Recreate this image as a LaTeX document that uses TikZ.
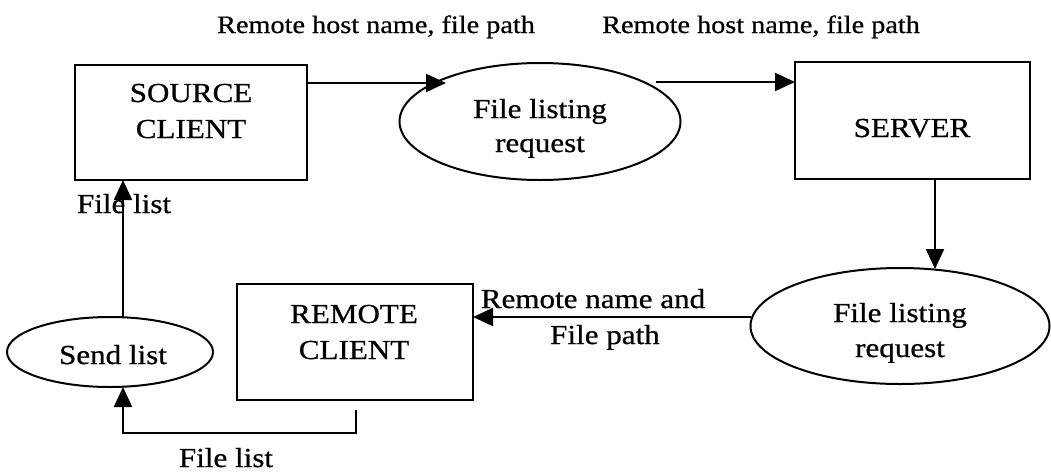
\documentclass[tikz,border=0pt]{standalone}
\usepackage{fontspec}
\setmainfont{Liberation Serif}[FakeStretch=1.13,FakeBold=0.7]
\usetikzlibrary{arrows.meta,shapes.geometric}
\begin{document}
\begin{tikzpicture}[x=1pt,y=-1pt,
  every node/.style={inner sep=0pt, outer sep=0pt},
  box/.style={draw, line width=2.1pt, rectangle},
  oval/.style={draw, line width=2pt, ellipse},
  big/.style={font=\fontsize{27.5}{33}\selectfont, anchor=base},
  small/.style={font=\fontsize{25}{30}\selectfont, anchor=base},
  arr/.style={line width=2.1pt, -{Triangle[length=20pt,width=18pt]}}]
\useasboundingbox (0,0) rectangle (1051,474);

% shapes
\node[box, minimum width=232pt, minimum height=115pt] (src) at (191,122.5) {};
\node[box, minimum width=235pt, minimum height=117pt] (srv) at (912.5,120.5) {};
\node[box, minimum width=236pt, minimum height=116pt] (rem) at (355,342) {};
\node[oval, minimum width=281pt, minimum height=117pt] (req1) at (540,121.5) {};
\node[oval, minimum width=299pt, minimum height=116pt] (req2) at (900,326) {};
\node[oval, minimum width=206pt, minimum height=70pt] (send) at (110,352) {};

% texts in shapes
\node[big] (t1) at (191,102) {SOURCE};
\node[big] (t2) at (191,138) {CLIENT};
\node[big] (t3) at (912,137) {SERVER};
\node[big] (t4) at (354,323) {REMOTE};
\node[big] (t5) at (354,359) {CLIENT};
\node[big] (t6) at (540,118) {File listing};
\node[big] (t7) at (540,152) {request};
\node[big] (t8) at (900,322) {File listing};
\node[big] (t9) at (900,357) {request};
\node[big] (t10) at (113,364) {Send list};

% labels
\node[big, anchor=base west] (l1) at (77,213) {File list};
\node[big] (l2) at (226,467) {File list};
\node[big] (l3) at (593,308) {Remote name and};
\node[big] (l4) at (605,344) {File path};
\node[small] (l5) at (376,33) {Remote host name, file path};
\node[small] (l6) at (761,33) {Remote host name, file path};

% connectors
\coordinate (a1) at (446,83);
\draw[arr] (src.east |- a1) -- (a1);
\coordinate (b1) at (656,82);
\draw[arr] (b1) -- (b1 -| srv.west);
\coordinate (c1) at (935,269);
\draw[arr] (c1 |- srv.south) -- (c1);
\coordinate (d1) at (751,317);
\draw[arr] (d1) -- (d1 -| rem.east);
\coordinate (e1) at (356,410);
\coordinate (e2) at (123,387);
\draw[arr] (e1) -- (e1 |- 0,433) -- (e2 |- 0,433) -- (e2);
\coordinate (f1) at (123,317);
\draw[arr] (f1) -- (f1 |- src.south);
\end{tikzpicture}
\end{document}
